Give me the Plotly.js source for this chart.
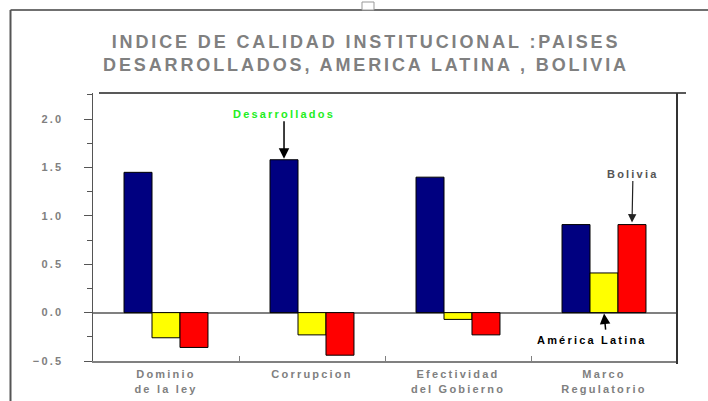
<!DOCTYPE html>
<html>
<head>
<meta charset="utf-8">
<script src="https://cdn.plot.ly/plotly-3.0.1.min.js"></script>
<style>
  html, body { margin: 0; padding: 0; background: #fff; }
  svg text { letter-spacing: 0.2em; }
  svg text.gtitle { letter-spacing: 0.16em; }
</style>
</head>
<body>
<div id="chart" style="width:708px;height:401px;"></div>
<script>
// ---- data ----
const categories = ['Dominio<br>de la ley', 'Corrupcion', 'Efectividad<br>del Gobierno', 'Marco<br>Regulatorio'];
const seriesNames = ['Desarrollados', 'América Latina', 'Bolivia'];
const desarrollados = [1.45, 1.58, 1.40, 0.91];
const americaLatina = [-0.26, -0.23, -0.07, 0.41];
const bolivia = [-0.36, -0.44, -0.23, 0.91];
const yTickValues = [-0.5, 0.0, 0.5, 1.0, 1.5, 2.0];
const yMinorTickValues = [-0.25, 0.25, 0.75, 1.25, 1.75, 2.25];

const FONT = 'Liberation Sans, Arial, sans-serif';
const GRAY = '#808080';
const colors = ['#000080', '#ffff00', '#ff0000'];
const values = [desarrollados, americaLatina, bolivia];

const traces = values.map((v, i) => ({
  type: 'bar',
  name: seriesNames[i],
  x: categories,
  y: v,
  marker: { color: colors[i], line: { color: '#000000', width: 1 } },
  showlegend: false,
  hoverinfo: 'x+y+name'
}));

const nCat = categories.length;
const groupWidth = 0.575;
const barOff = groupWidth / 3;

const layout = {
  width: 708,
  height: 401,
  margin: { l: 93, r: 31, t: 93, b: 40 },
  paper_bgcolor: '#ffffff',
  plot_bgcolor: '#ffffff',
  barmode: 'group',
  bargap: 1 - groupWidth,
  bargroupgap: 0,
  title: {
    text: 'INDICE DE CALIDAD INSTITUCIONAL :PAISES<br>DESARROLLADOS, AMERICA LATINA , BOLIVIA',
    font: { family: FONT, size: 18, color: GRAY, weight: 'bold' },
    xref: 'container', x: 366 / 708, xanchor: 'center',
    yref: 'container', y: 1 - 48 / 401, yanchor: 'top'
  },
  xaxis: {
    type: 'category',
    showline: true, linecolor: GRAY, linewidth: 2,
    ticks: 'inside', tickson: 'boundaries', ticklen: 5, tickcolor: GRAY, tickwidth: 1,
    showgrid: false, zeroline: false,
    tickfont: { family: FONT, size: 11, color: GRAY, weight: 'bold' },
    ticklabelstandoff: 2,
    fixedrange: true
  },
  yaxis: {
    range: [-0.5, 2.27],
    tickmode: 'array',
    tickvals: yTickValues,
    tickformat: '.1f',
    ticks: 'outside', ticklen: 8, tickcolor: '#555555', tickwidth: 1,
    minor: { tickmode: 'array', tickvals: yMinorTickValues, ticks: 'outside', ticklen: 5, tickcolor: '#555555', tickwidth: 1 },
    showline: true, linecolor: '#555555', linewidth: 1.5,
    showgrid: false,
    zeroline: true, zerolinecolor: GRAY, zerolinewidth: 2,
    tickfont: { family: FONT, size: 11, color: GRAY, weight: 'bold' },
    ticklabelstandoff: 18,
    fixedrange: true
  },
  yaxis2: {
    overlaying: 'y', anchor: 'x', side: 'left',
    range: [-0.5, 2.27],
    tickmode: 'array',
    tickvals: yTickValues,
    ticks: 'inside', ticklen: 8, tickcolor: '#555555', tickwidth: 1,
    minor: { tickmode: 'array', tickvals: yMinorTickValues, ticks: 'inside', ticklen: 6, tickcolor: '#555555', tickwidth: 1 },
    showticklabels: false, showline: false, showgrid: false, zeroline: false,
    fixedrange: true
  },
  shapes: [
    // plot frame: top and right
    { type: 'line', xref: 'paper', yref: 'paper', x0: 6 / 584, x1: 593 / 584, y0: 1, y1: 1,
      line: { color: '#222222', width: 1.5 } },
    { type: 'line', xref: 'paper', yref: 'paper', x0: 1, x1: 1, y0: 1, y1: -3 / 268,
      line: { color: '#333333', width: 2 } },
    // outer frame
    { type: 'line', xref: 'paper', yref: 'paper', x0: -82.5 / 584, x1: 615 / 584, y0: 351 / 268, y1: 351 / 268,
      line: { color: '#707070', width: 2 } },
    { type: 'line', xref: 'paper', yref: 'paper', x0: -82.5 / 584, x1: -82.5 / 584, y0: 351 / 268, y1: -45 / 268,
      line: { color: '#555555', width: 2 } },
    // small handle square
    { type: 'rect', xref: 'paper', yref: 'paper', x0: 269 / 584, x1: 281 / 584, y0: 351 / 268, y1: 359 / 268,
      fillcolor: '#ffffff', line: { color: '#999999', width: 1 } }
  ],
  annotations: [
    { x: 1 - barOff, y: desarrollados[1], xref: 'x', yref: 'y',
      text: seriesNames[0], showarrow: true, ax: 0, ay: -46,
      arrowhead: 2, arrowsize: 1.4, arrowwidth: 1.5, arrowcolor: '#000000', standoff: 1,
      font: { family: FONT, size: 11, color: '#22ee22', weight: 'bold' } },
    { x: (nCat - 1) + barOff, y: bolivia[3], xref: 'x', yref: 'y',
      text: seriesNames[2], showarrow: true, ax: 1, ay: -51,
      arrowhead: 2, arrowsize: 1.4, arrowwidth: 1.2, arrowcolor: '#222222', standoff: 2,
      font: { family: FONT, size: 11, color: '#555555', weight: 'bold' } },
    { x: nCat - 1, y: 0, xref: 'x', yref: 'y',
      text: ' ', showarrow: true, ax: 2, ay: 21,
      arrowhead: 2, arrowsize: 1.4, arrowwidth: 1.5, arrowcolor: '#000000', standoff: 1,
      font: { family: FONT, size: 4, color: '#000000' } },
    { x: (nCat - 1) - 0.082, y: -0.28, xref: 'x', yref: 'y',
      text: seriesNames[1], showarrow: false, xanchor: 'center', yanchor: 'middle',
      font: { family: FONT, size: 11, color: '#000000', weight: 'bold' } }
  ]
};

Plotly.newPlot('chart', traces, layout, { displayModeBar: false, staticPlot: true });
</script>
</body>
</html>
